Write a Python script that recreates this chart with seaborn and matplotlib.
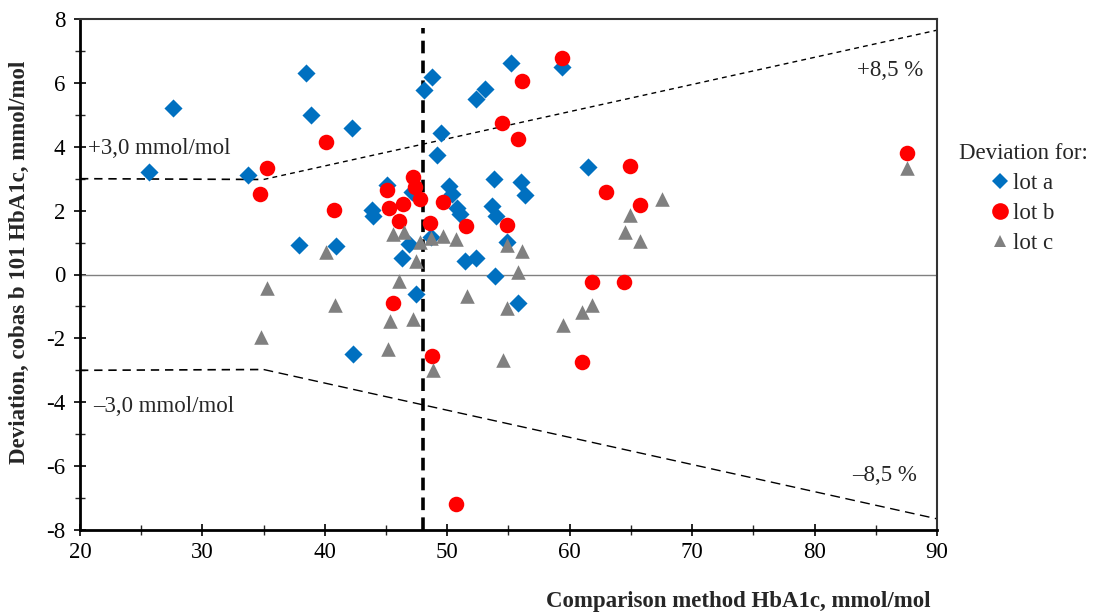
import matplotlib
matplotlib.use("Agg")
import matplotlib.pyplot as plt
import seaborn as sns
import pandas as pd
from matplotlib.lines import Line2D

# ---- data ----
lot_a_x = [25.6, 27.6, 38.5, 38.85, 42.25, 33.7, 43.86, 43.97, 37.9, 40.9,
           48.73, 48.1, 55.24, 59.4, 53.06, 52.35, 49.46, 49.13, 61.47, 50.15,
           50.37, 50.83, 51.0, 53.79, 56.0, 56.38, 53.69, 54.01, 47.09, 45.1,
           46.84, 46.33, 48.67, 51.43, 52.35, 54.85, 53.9, 47.45, 55.75, 42.33]
lot_a_y = [3.20, 5.22, 6.30, 4.99, 4.60, 3.12, 2.03, 1.84, 0.92, 0.89,
           6.17, 5.78, 6.61, 6.51, 5.80, 5.49, 4.42, 3.74, 3.36, 2.78,
           2.51, 2.09, 1.89, 3.00, 2.91, 2.49, 2.14, 1.84, 2.59, 2.80,
           0.94, 0.51, 1.18, 0.43, 0.53, 1.02, -0.04, -0.62, -0.88, -2.50]

lot_b_x = [40.07, 35.25, 34.73, 40.77, 59.4, 56.09, 54.5, 55.75, 64.96, 62.97,
           65.78, 47.17, 47.39, 47.77, 45.1, 45.27, 46.41, 46.03, 49.62, 48.59,
           51.5, 54.88, 61.79, 64.46, 45.53, 48.77, 61.0, 50.69, 87.52]
lot_b_y = [4.14, 3.34, 2.51, 2.02, 6.77, 6.07, 4.73, 4.24, 3.41, 2.57,
           2.18, 3.06, 2.75, 2.36, 2.65, 2.09, 2.20, 1.68, 2.28, 1.60,
           1.53, 1.55, -0.22, -0.22, -0.90, -2.55, -2.75, -7.20, 3.81]

lot_c_x = [40.07, 67.53, 64.96, 64.51, 65.78, 45.54, 46.48, 47.77, 47.42, 48.67,
           49.62, 50.71, 54.9, 56.09, 55.75, 46.08, 45.31, 47.23, 51.58, 54.9,
           59.43, 61.02, 61.84, 45.16, 48.82, 54.58, 35.25, 40.83, 34.76, 87.52]
lot_c_y = [0.72, 2.36, 1.86, 1.32, 1.05, 1.26, 1.34, 1.01, 0.42, 1.15,
           1.22, 1.11, 0.92, 0.74, 0.09, -0.20, -1.47, -1.40, -0.67, -1.06,
           -1.58, -1.18, -0.95, -2.33, -3.00, -2.68, -0.43, -0.95, -1.95, 3.34]

lot_names = ["lot a", "lot b", "lot c"]
lot_colors = ["#0070C0", "#FF0000", "#808080"]

limit_x = [20, 35, 90]
upper_limit = [3.0, 2.975, 7.65]
lower_limit = [-3.0, -2.975, -7.65]
cutoff_x = 48

# ---- style ----
sns.set_theme(style="ticks")
plt.rcParams["font.family"] = ["Liberation Serif", "DejaVu Serif"]
plt.rcParams["axes.unicode_minus"] = False

fig = plt.figure(figsize=(10.97, 6.13), dpi=100)
ax = fig.add_axes([80/1097, 1-530/613, 857/1097, 511/613])

df = pd.concat([
    pd.DataFrame({"x": lot_a_x, "y": lot_a_y, "lot": "lot a"}),
    pd.DataFrame({"x": lot_b_x, "y": lot_b_y, "lot": "lot b"}),
    pd.DataFrame({"x": lot_c_x, "y": lot_c_y, "lot": "lot c"}),
], ignore_index=True)

# reference lines
ax.axhline(0, color="#808080", lw=1.0, zorder=1)
ax.plot(limit_x[:2], upper_limit[:2], color="black", lw=1.2, dashes=(5, 3.5), zorder=1)
ax.plot(limit_x[1:], upper_limit[1:], color="black", lw=1.0, dashes=(3.5, 3), zorder=1)
ax.plot(limit_x[:2], lower_limit[:2], color="black", lw=1.2, dashes=(5, 3.5), zorder=1)
ax.plot(limit_x[1:], lower_limit[1:], color="black", lw=1.0, dashes=(7, 4), zorder=1)
ax.plot([cutoff_x, cutoff_x], [-8, 7.72], color="black", lw=2.6, dashes=(3.5, 2), zorder=1)

markers = {"lot a": "D", "lot b": "o", "lot c": "^"}
sizes = {"lot a": 85, "lot b": 125, "lot c": 110}
for name, col in zip(lot_names, lot_colors):
    sub = df[df["lot"] == name]
    sns.scatterplot(data=sub, x="x", y="y", ax=ax, color=col, marker=markers[name],
                    s=sizes[name], linewidth=0, zorder=3, legend=False)

# annotations
fs = 16.5
ax.text(20.65, 3.96, "+3,0 mmol/mol", fontsize=fs, va="center", ha="left")
ax.text(21.06, -4.12, "\u20133,0 mmol/mol", fontsize=fs, va="center", ha="left")
ax.text(83.47, 6.40, "+8,5 %", fontsize=fs, va="center", ha="left")
ax.text(83.06, -6.28, "\u20138,5 %", fontsize=fs, va="center", ha="left")

ax.set_xlim(20, 90)
ax.set_ylim(-8, 8)
ax.set_xticks(range(20, 91, 10))
ax.set_xticks(range(25, 90, 10), minor=True)
ax.set_yticks(range(-8, 9, 2))
ax.set_yticks(range(-7, 8, 2), minor=True)
ax.tick_params(axis="both", which="major", direction="inout", length=9, width=1.2,
               labelsize=fs, colors="black")
ax.tick_params(axis="both", which="minor", direction="inout", length=7, width=1.0)
ax.tick_params(axis="x", pad=4)
ax.tick_params(axis="y", pad=6)

for side in ["left", "bottom"]:
    ax.spines[side].set_linewidth(2.0)
    ax.spines[side].set_color("black")
for side in ["top", "right"]:
    ax.spines[side].set_visible(True)
    ax.spines[side].set_linewidth(1.5)
    ax.spines[side].set_color("#333333")

ax.set_xlabel("Comparison method HbA1c, mmol/mol", fontsize=fs, fontweight="bold")
ax.set_ylabel("Deviation, cobas b 101 HbA1c, mmol/mol", fontsize=fs, fontweight="bold")
ax.xaxis.set_label_coords((738-80)/857, -(591-530)/511)
ax.yaxis.set_label_coords(-(80-30)/857, (530-262)/511)

handles = [Line2D([], [], ls="none", marker=markers[n], color=c, markersize=ms, markeredgewidth=0)
           for n, c, ms in zip(lot_names, lot_colors, [8.5, 12, 9])]
ax.legend(handles, lot_names, title="Deviation for:", loc="upper left",
          bbox_to_anchor=(948/1097, 1-132/613), bbox_transform=fig.transFigure,
          frameon=False, fontsize=fs, title_fontsize=fs, handlelength=0.6,
          handletextpad=0.25, labelspacing=0.38, borderpad=0)

fig.savefig("out.png", dpi=100, facecolor="white")
